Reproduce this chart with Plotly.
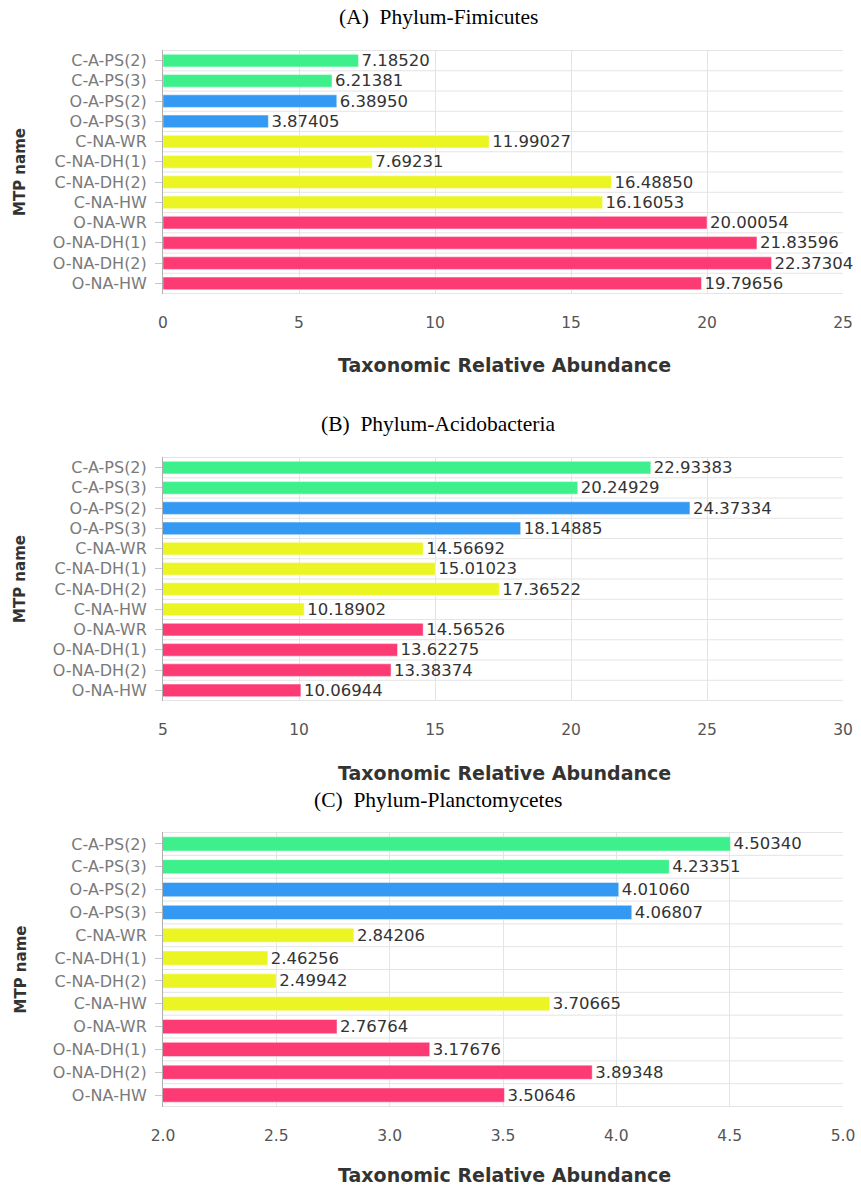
import plotly.graph_objects as go
from plotly.subplots import make_subplots

# MTP sample names, top to bottom
categories = ["C-A-PS(2)", "C-A-PS(3)", "O-A-PS(2)", "O-A-PS(3)",
              "C-NA-WR", "C-NA-DH(1)", "C-NA-DH(2)", "C-NA-HW",
              "O-NA-WR", "O-NA-DH(1)", "O-NA-DH(2)", "O-NA-HW"]

firmicutes = [7.18520, 6.21381, 6.38950, 3.87405, 11.99027, 7.69231,
              16.48850, 16.16053, 20.00054, 21.83596, 22.37304, 19.79656]
acidobacteria = [22.93383, 20.24929, 24.37334, 18.14885, 14.56692, 15.01023,
                 17.36522, 10.18902, 14.56526, 13.62275, 13.38374, 10.06944]
planctomycetes = [4.50340, 4.23351, 4.01060, 4.06807, 2.84206, 2.46256,
                  2.49942, 3.70665, 2.76764, 3.17676, 3.89348, 3.50646]

panel_titles = ["(A)\u00a0 Phylum-Fimicutes", "(B)\u00a0 Phylum-Acidobacteria",
                "(C)\u00a0 Phylum-Planctomycetes"]
x_ranges = [[0, 25], [5, 30], [2.0, 5.0]]
x_dticks = [5, 5, 0.5]
x_formats = ["d", "d", ".1f"]

group_colors = {"C-A": "#3df08b", "O-A": "#3399f2", "C-NA": "#ebf523", "O-NA": "#fc3a74"}


def bar_color(name):
    return group_colors[name.rsplit("-", 1)[0]]


colors = [bar_color(c) for c in categories]

W, H = 861, 1186
L, R = 163, 843
# vertical pixel layout of each panel: (title, plot top, plot bottom, axis title)
panels_px = [(17, 50, 294, 365),
             (424, 457, 701, 773),
             (800, 832, 1107, 1175)]


def py(p):
    return 1 - p / H


def px(p):
    return (p - L) / (R - L)


fig = make_subplots(rows=3, cols=1)

series = [firmicutes, acidobacteria, planctomycetes]
for i, vals in enumerate(series):
    fig.add_trace(go.Bar(
        x=vals, y=categories, orientation="h",
        marker=dict(color=colors, line=dict(color="rgba(255,255,255,0.45)", width=1)),
        width=0.62,
        texttemplate="%{x:.5f}", textposition="outside",
        textfont=dict(family="DejaVu Sans", size=16.5, color="#333333"),
        constraintext="none", cliponaxis=False,
        showlegend=False, hoverinfo="x+y",
    ), row=i + 1, col=1)

annotations = []
shapes = []
n = len(categories)
for i in range(3):
    t_px, top, bot, xt_px = panels_px[i]
    ax = "" if i == 0 else str(i + 1)
    xref = "x" + ax
    yref = "y" + ax
    fig.layout["yaxis" + ax].update(
        domain=[py(bot), py(top)],
        autorange="reversed", type="category",
        showgrid=False,
        ticks="outside", ticklen=7, tickcolor="#c8c8c8", tickwidth=1,
        ticklabelstandoff=5,
        tickfont=dict(family="DejaVu Sans", size=16, color="#7a7a7a"),
        showline=True, linecolor="#b0b0b0", linewidth=1,
        zeroline=False, automargin=False,
    )
    fig.layout["xaxis" + ax].update(
        range=x_ranges[i], dtick=x_dticks[i], tick0=0, tickformat=x_formats[i],
        showgrid=True, gridcolor="#e4e4e4", gridwidth=1,
        ticks="", ticklabelstandoff=17,
        tickfont=dict(family="DejaVu Sans", size=15.5, color="#555555"),
        showline=False, zeroline=False, automargin=False,
    )
    # horizontal grid lines on the boundaries between category rows
    for k in range(n + 1):
        shapes.append(dict(
            type="line", xref=xref + " domain", yref=yref,
            x0=0, x1=1, y0=k - 0.5, y1=k - 0.5,
            line=dict(color="#e4e4e4", width=1), layer="below"))
    annotations.append(dict(
        text=panel_titles[i], xref="paper", yref="paper",
        x=px(438), y=py(t_px), xanchor="center", yanchor="middle", showarrow=False,
        font=dict(family="Liberation Serif", size=21.5, color="#000000")))
    annotations.append(dict(
        text="<b>Taxonomic Relative Abundance</b>", xref="paper", yref="paper",
        x=px(504), y=py(xt_px), xanchor="center", yanchor="middle", showarrow=False,
        font=dict(family="DejaVu Sans", size=19, color="#333333")))
    annotations.append(dict(
        text="<b>MTP name</b>", xref="paper", yref="paper", textangle=-90,
        x=px(20), y=py((top + bot) / 2), xanchor="center", yanchor="middle",
        showarrow=False, font=dict(family="DejaVu Sans", size=15, color="#333333")))

fig.update_layout(
    width=W, height=H,
    margin=dict(l=L, r=W - R, t=0, b=0),
    paper_bgcolor="white", plot_bgcolor="white",
    annotations=annotations,
    shapes=shapes,
)

fig.write_html("out.html")
